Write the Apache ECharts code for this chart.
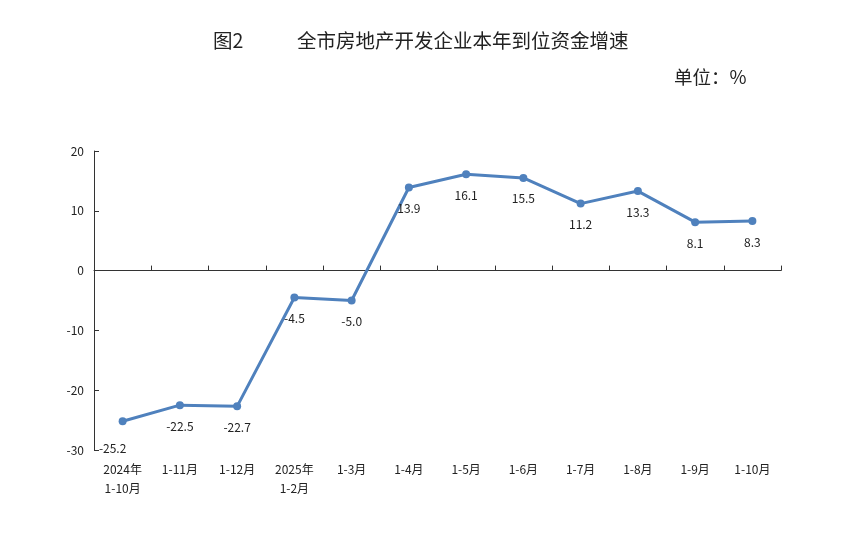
<!DOCTYPE html>
<html><head><meta charset="utf-8">
<script src="https://cdn.jsdelivr.net/npm/echarts@6/dist/echarts.min.js"></script>
<style>html,body{margin:0;padding:0;background:#fff}#c{width:843px;height:533px}</style>
</head><body><div id="c"></div>
<script>
const categories = ['2024年\n1-10月','1-11月','1-12月','2025年\n1-2月','1-3月','1-4月','1-5月','1-6月','1-7月','1-8月','1-9月','1-10月'];
const values = [-25.2,-22.5,-22.7,-4.5,-5.0,13.9,16.1,15.5,11.2,13.3,8.1,8.3];
const yTicks = {min:-30,max:20,interval:10};
const font = '"Microsoft YaHei","Noto Sans CJK SC",sans-serif';
const chart = echarts.init(document.getElementById('c'));
const seriesData = values.map((v,i)=> i===0 ? {value:v,label:{offset:[-10,6]}} : v);
chart.setOption({
  animation:false,
  grid:{left:94,right:62,top:151,bottom:83},
  graphic:[
    {type:'text',left:213,top:31,style:{text:'图2',font:'19.5px '+font,fill:'#222'}},
    {type:'text',left:297,top:31,style:{text:'全市房地产开发企业本年到位资金增速',font:'19.5px '+font,fill:'#222'}},
    {type:'text',left:674,top:68,style:{text:'单位：%',font:'18.5px '+font,fill:'#222'}}
  ],
  xAxis:[
    {type:'category',data:categories,boundaryGap:true,
     axisLine:{onZero:true,lineStyle:{color:'#333',width:1}},
     axisTick:{show:true,inside:true,length:5,alignWithLabel:false,lineStyle:{color:'#333'}},
     axisLabel:{show:false},splitLine:{show:false}},
    {type:'category',data:categories,position:'bottom',boundaryGap:true,
     axisLine:{show:false,onZero:false},axisTick:{show:false},
     axisLabel:{show:true,interval:0,color:'#222',fontSize:12,fontFamily:font,lineHeight:19,margin:10}}
  ],
  yAxis:{type:'value',min:yTicks.min,max:yTicks.max,interval:yTicks.interval,
    axisLine:{show:true,lineStyle:{color:'#333',width:1}},
    axisTick:{show:true,inside:true,length:5,lineStyle:{color:'#333'}},
    axisLabel:{color:'#222',fontSize:12,fontFamily:font,margin:10},
    splitLine:{show:false}},
  series:[{type:'line',data:seriesData,xAxisIndex:0,
    lineStyle:{color:'#4F81BD',width:3},
    itemStyle:{color:'#4F81BD'},
    symbol:'circle',symbolSize:8,
    label:{show:true,position:'bottom',distance:11,color:'#222',fontSize:12,fontFamily:font,
      formatter:p=>Number(p.value).toFixed(1)}}]
});
</script></body></html>
